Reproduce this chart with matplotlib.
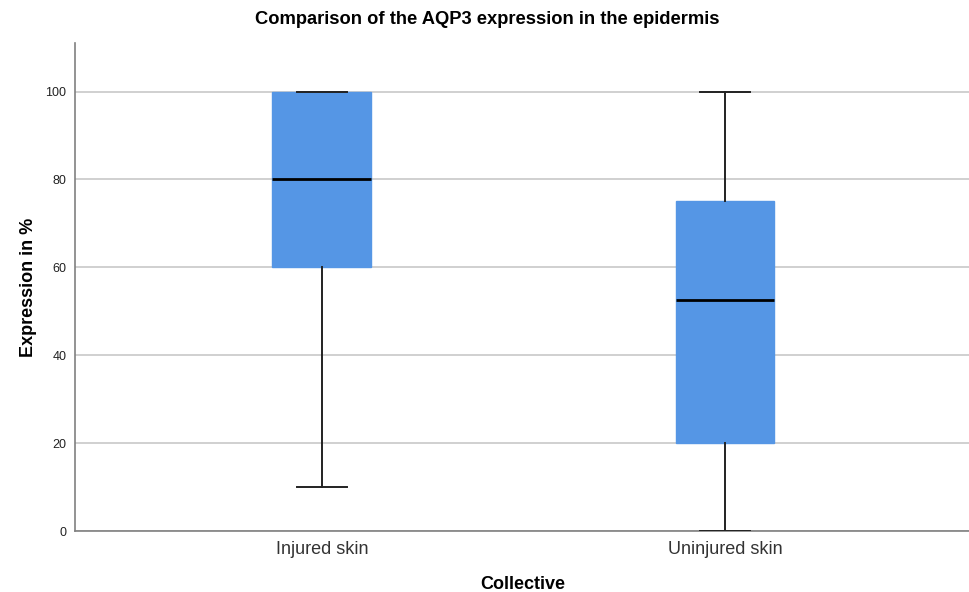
import matplotlib
matplotlib.use('Agg')
import matplotlib.pyplot as plt

# Box summary values (percent)
groups = ["Injured skin", "Uninjured skin"]
whisker_low = [10, 0]
q1 = [60, 20]
median = [80, 52.5]
q3 = [100, 75]
whisker_high = [100, 100]
yticks = [0, 20, 40, 60, 80, 100]

plt.rcParams['font.family'] = ['Liberation Sans', 'DejaVu Sans']

fig = plt.figure(figsize=(9.7, 5.92), dpi=100)
ax = fig.add_axes([0.077, 0.103, 0.923, 0.824])

stats = []
for i, name in enumerate(groups):
    stats.append({
        'label': name,
        'whislo': whisker_low[i],
        'q1': q1[i],
        'med': median[i],
        'q3': q3[i],
        'whishi': whisker_high[i],
        'fliers': [],
    })

ax.bxp(stats, positions=[1, 2], widths=0.245, patch_artist=True,
       showfliers=False,
       boxprops=dict(facecolor='#5596e5', edgecolor='#5596e5', linewidth=1),
       medianprops=dict(color='black', linewidth=2),
       whiskerprops=dict(color='#222222', linewidth=1.4),
       capprops=dict(color='#222222', linewidth=1.4),
       capwidths=0.124, zorder=3)

ax.set_xlim(0.387, 2.608)
ax.set_ylim(0, 111)
ax.set_yticks(yticks)
ax.set_yticklabels([str(v) for v in yticks], fontsize=9, color='#222222')
ax.set_xticklabels(groups, fontsize=13, color='#333333')
ax.tick_params(axis='both', length=0, pad=6)
ax.tick_params(axis='x', pad=7)

ax.yaxis.grid(True, color='#c8c8c8', linewidth=1.2, zorder=0)
ax.set_axisbelow(True)
for side in ['top', 'right']:
    ax.spines[side].set_visible(False)
for side in ['left', 'bottom']:
    ax.spines[side].set_color('#808080')
    ax.spines[side].set_linewidth(1.2)

# title is centred on the whole figure, not the axes
fig.suptitle("Comparison of the AQP3 expression in the epidermis",
             x=0.502, y=0.967, fontsize=13.2, fontweight='bold', va='center')
ax.set_ylabel("Expression in %", fontsize=13, fontweight='bold', labelpad=6)
ax.set_xlabel("Collective", fontsize=13, fontweight='bold', labelpad=13)

fig.savefig('out.png', dpi=100)
